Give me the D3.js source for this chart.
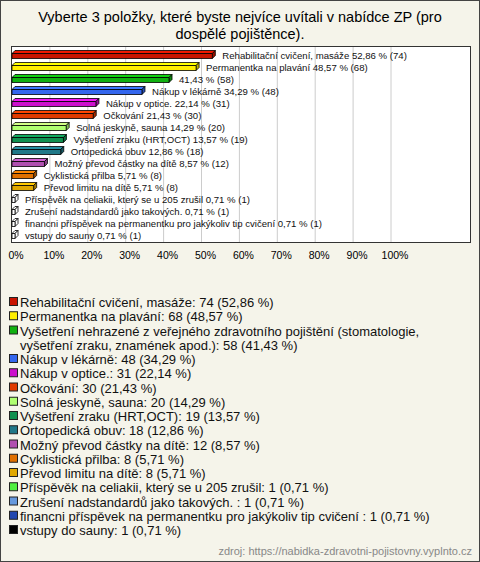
<!DOCTYPE html><html><head><meta charset="utf-8"><script src="https://cdn.jsdelivr.net/npm/d3@7"></script>
<style>body{margin:0;background:#fff}svg{display:block;font-family:"Liberation Sans",Arial,sans-serif}</style></head><body><svg id="c" width="480" height="562"></svg><script>
const barLabels=["Rehabilitační cvičení, masáže","Permanentka na plavání","","Nákup v lékárně","Nákup v optice.","Očkování","Solná jeskyně, sauna","Vyšetření zraku (HRT,OCT)","Ortopedická obuv","Možný převod částky na dítě","Cyklistická přilba","Převod limitu na dítě","Příspěvěk na celiakii, který se u 205 zrušil","Zrušení nadstandardů jako takových. ","financni příspěvek na permanentku pro jakýkoliv tip cvičení ","vstupy do sauny"];
const legendLabels=["Rehabilitační cvičení, masáže","Permanentka na plavání","Vyšetření nehrazené z veřejného zdravotního pojištění (stomatologie,|vyšetření zraku, znamének apod.)","Nákup v lékárně","Nákup v optice.","Očkování","Solná jeskyně, sauna","Vyšetření zraku (HRT,OCT)","Ortopedická obuv","Možný převod částky na dítě","Cyklistická přilba","Převod limitu na dítě","Příspěvěk na celiakii, který se u 205 zrušil","Zrušení nadstandardů jako takových. ","financni příspěvek na permanentku pro jakýkoliv tip cvičení ","vstupy do sauny"];
const counts=[74,68,58,48,31,30,20,19,18,12,8,8,1,1,1,1];
const percents=[52.86,48.57,41.43,34.29,22.14,21.43,14.29,13.57,12.86,8.57,5.71,5.71,0.71,0.71,0.71,0.71];
const colors=["#c81400","#ffee00","#10b010","#3366ee","#cc10cc","#e03a00","#b0ff70","#109050","#207888","#b050b0","#e07000","#e0a800","#50f040","#6699dd","#2248b0","#000000"];
const ticks=[0,10,20,30,40,50,60,70,80,90,100];
const fmt=v=>v.toFixed(2).replace(".",",");
const svg=d3.select("#c");
svg.append("rect").attr("x",0.5).attr("y",0.5).attr("width",479).attr("height",561).attr("fill","#f5f4ea").attr("stroke","#444");
svg.append("text").attr("x",240).attr("y",22).attr("text-anchor","middle").attr("font-size",14.5).text("Vyberte 3 položky, které byste nejvíce uvítali v nabídce ZP (pro");
svg.append("text").attr("x",240).attr("y",39).attr("text-anchor","middle").attr("font-size",14.5).text("dospělé pojištěnce).");
const x=d3.scaleLinear().domain([0,100]).range([12,391]);
const y=d3.scaleBand().domain(d3.range(16)).range([49,241]);
svg.append("rect").attr("x",11.5).attr("y",46.5).attr("width",459).attr("height",196).attr("fill","#fff").attr("stroke","#333");
svg.selectAll(".g").data(ticks.slice(1)).join("line").attr("x1",d=>x(d)).attr("x2",d=>x(d)).attr("y1",47).attr("y2",242).attr("stroke","#ccc");
svg.selectAll(".t").data(ticks).join("text").attr("x",d=>x(d)+4).attr("y",259).attr("text-anchor","middle").attr("font-size",10.5).text(d=>d+"%");
const dep=3,bh=5;
percents.forEach((p,i)=>{
  const c=colors[i],dk=d3.color(c).darker(0.8),x0=x(0),x1=Math.max(x(p),x0+3),yc=y(i)+y.bandwidth()/2,yt=yc-bh/2+1;
  const small=p<1;
  const g=svg.append("g").attr("stroke","#000").attr("stroke-width",0.8).attr("stroke-linejoin","round");
  g.append("path").attr("d",`M${x0},${yt} L${x0+dep},${yt-dep} L${x1+dep},${yt-dep} L${x1},${yt} Z`).attr("fill",small?"#fff":d3.color(c).brighter(0.5));
  g.append("path").attr("d",`M${x1},${yt} L${x1+dep},${yt-dep} L${x1+dep},${yt-dep+bh} L${x1},${yt+bh} Z`).attr("fill",small?"#fff":dk);
  g.append("rect").attr("x",x0).attr("y",yt).attr("width",x1-x0).attr("height",bh).attr("fill",small?"#fff":c);
  svg.append("text").attr("x",x1+dep+7).attr("y",yc+3.5).attr("font-size",9.6).attr("fill","#111")
    .text((barLabels[i]?barLabels[i]+" ":"")+fmt(p)+" % ("+counts[i]+")");
});
let ly=307;
const ls=14.25;
legendLabels.forEach((l,i)=>{
  svg.append("rect").attr("x",9.5).attr("y",ly-9.5).attr("width",8).attr("height",8).attr("fill",colors[i]).attr("stroke","#222");
  const lines=l.split("|");
  lines.forEach((s,k)=>{
    svg.append("text").attr("x",20).attr("y",ly+k*ls).attr("font-size",13).attr("fill","#111")
      .text(k===lines.length-1?s+": "+counts[i]+" ("+fmt(percents[i])+" %)":s);
  });
  ly+=ls*lines.length;
});
svg.append("text").attr("x",472).attr("y",555).attr("text-anchor","end").attr("font-size",11).attr("fill","#888").text("zdroj: https://nabidka-zdravotni-pojistovny.vyplnto.cz");
</script></body></html>
